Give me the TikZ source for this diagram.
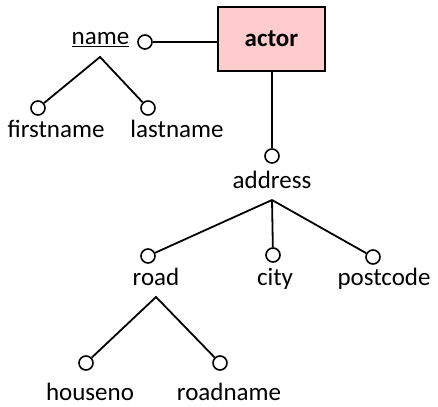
\documentclass[tikz,border=0pt]{standalone}
\usepackage{fontspec}
\setmainfont{Carlito}
\usetikzlibrary{positioning}
\definecolor{actorpink}{RGB}{255,204,206}
\tikzset{
    attr/.style={circle,draw,line width=1.6pt,minimum size=14pt,inner sep=0pt},
    lbl/.style={font=\fontsize{25}{30}\selectfont,inner sep=0pt,anchor=base},
    link/.style={line width=1.8pt}
}
\begin{document}
\begin{tikzpicture}[x=1pt,y=-1pt]
    \useasboundingbox (0,0) rectangle (438,406);
    % entity
    \node[draw,line width=2.6pt,fill=actorpink,minimum width=107pt,minimum height=64pt,
        font=\bfseries\fontsize{25}{30}\selectfont] (actor) at (271.5,39) {actor};
    % name
    \node[attr] (nameo) at (145,42) {};
    \node[lbl] (name) at (100.5,45) {\underline{name}};
    \coordinate (namej) at (100,57);
    \node[attr] (firsto) at (38,108) {};
    \node[attr] (lasto) at (148,108) {};
    \node[lbl] (first) at (56,138) {firstname};
    \node[lbl] (last) at (177,138) {lastname};
    % address
    \node[attr] (addro) at (272,156) {};
    \node[lbl] (addr) at (272,188) {address};
    \coordinate (addrj) at (272,200);
    \node[attr] (roado) at (148,256) {};
    \node[attr] (cityo) at (273,255) {};
    \node[attr] (posto) at (373,257) {};
    \node[lbl] (road) at (156,285) {road};
    \node[lbl] (city) at (275,285) {city};
    \node[lbl] (post) at (384,285) {postcode};
    \coordinate (roadj) at (156,297);
    \node[attr] (houseo) at (86,363) {};
    \node[attr] (rnameo) at (220,363) {};
    \node[lbl] (house) at (90,400) {houseno};
    \node[lbl] (rname) at (229,400) {roadname};
    % links
    \draw[link] (nameo) -- (nameo -| actor.west);
    \draw[link] (actor.south -| addro) -- (addro);
    \draw[link] (firsto) -- (namej) -- (lasto);
    \draw[link] (addrj) -- (roado);
    \draw[link] (addrj) -- (cityo);
    \draw[link] (addrj) -- (posto);
    \draw[link] (houseo) -- (roadj) -- (rnameo);
\end{tikzpicture}
\end{document}
